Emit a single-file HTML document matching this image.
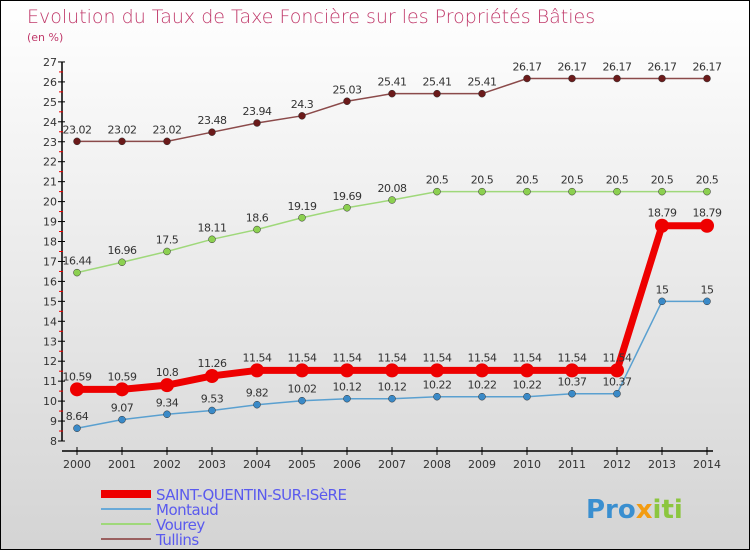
<!DOCTYPE html>
<html><head><meta charset="utf-8"><style>
body{margin:0}
#c{width:748px;height:548px;border:1px solid #000;background:linear-gradient(#fff,#d4d4d4);position:relative;font-family:"DejaVu Sans","Liberation Sans",sans-serif;overflow:hidden}
svg{position:absolute;left:0;top:0}
</style></head><body>
<div id="c">
<svg id="s" width="748" height="548" xmlns="http://www.w3.org/2000/svg">
<text x="26" y="22" font-size="19" fill="#c0396a" font-family="DejaVu Sans,sans-serif" font-weight="200">Evolution du Taux de Taxe Foncière sur les Propriétés Bâties</text>
<text x="26" y="40" font-size="11" fill="#c0396a">(en %)</text>
<g id="axes"></g><g id="series"></g><g id="legend"></g>
<text x="585" y="517" font-size="26" font-weight="bold" fill="#3a8fd0">Pro<tspan fill="#f39c12">x</tspan><tspan fill="#8cc63f">iti</tspan></text>
</svg>
</div>
<script>
const years=[2000,2001,2002,2003,2004,2005,2006,2007,2008,2009,2010,2011,2012,2013,2014];
const yTicks=[8,9,10,11,12,13,14,15,16,17,18,19,20,21,22,23,24,25,26,27];
const saint=[10.59,10.59,10.8,11.26,11.54,11.54,11.54,11.54,11.54,11.54,11.54,11.54,11.54,18.79,18.79];
const montaud=[8.64,9.07,9.34,9.53,9.82,10.02,10.12,10.12,10.22,10.22,10.22,10.37,10.37,15,15];
const vourey=[16.44,16.96,17.5,18.11,18.6,19.19,19.69,20.08,20.5,20.5,20.5,20.5,20.5,20.5,20.5];
const tullins=[23.02,23.02,23.02,23.48,23.94,24.3,25.03,25.41,25.41,25.41,26.17,26.17,26.17,26.17,26.17];
const NS="http://www.w3.org/2000/svg";
const X=i=>76+i*45;
const Y=v=>440-(v-8)*19.95;
function mk(p,t,a){const e=document.createElementNS(NS,t);for(const k in a)e.setAttribute(k,a[k]);p.appendChild(e);return e;}
const ax=document.getElementById('axes');
let l=mk(ax,'line',{x1:61,y1:Y(27),x2:61,y2:Y(8),stroke:'#000','stroke-width':1.5});


l=mk(ax,'line',{x1:61,y1:450,x2:X(14)+6,y2:450,stroke:'#000','stroke-width':1.5});


yTicks.forEach(v=>{mk(ax,'line',{x1:57,y1:Y(v),x2:64,y2:Y(v),stroke:'#000'});
if(v<27)mk(ax,'line',{x1:58,y1:Y(v+0.5),x2:62,y2:Y(v+0.5),stroke:'#e00'});
const t=mk(ax,'text',{x:56,y:Y(v)+4,'text-anchor':'end','font-size':11,fill:'#333'});t.textContent=v;

});
years.forEach((y,i)=>{mk(ax,'line',{x1:X(i),y1:446,x2:X(i),y2:454,stroke:'#000'});
const t=mk(ax,'text',{x:X(i),y:467,'text-anchor':'middle','font-size':11,fill:'#333'});t.textContent=y;

});
const sg=document.getElementById('series');
function draw(d,name,col,w,r,dot){const g=mk(sg,'g',{});


const pl=mk(g,'polyline',{points:d.map((v,i)=>X(i)+','+Y(v)).join(' '),fill:'none',stroke:col,'stroke-width':w});


d.forEach((v,i)=>{const c=mk(g,'circle',{cx:X(i),cy:Y(v),r:r,fill:dot,stroke:w>3?'none':'#333','stroke-width':0.5});


const t=mk(g,'text',{x:X(i),y:Y(v)-(w>3?9:8),'text-anchor':'middle','font-size':11,fill:'#333','letter-spacing':'-0.5'});t.textContent=v;

});}
draw(tullins,'tullins','#8b4a4a',1.5,3.5,'#6b1a1a');
draw(vourey,'vourey','#9fd87a',1.5,3.5,'#8cd050');
draw(montaud,'montaud','#5aa0d0',1.5,3.5,'#3a8ac8');
draw(saint,'saint-quentin','#ee0000',7,7,'#ee0000');
const lg=document.getElementById('legend');
[['SAINT-QUENTIN-SUR-ISèRE','#ee0000',8],['Montaud','#6aaad8',2],['Vourey','#9fd87a',2],['Tullins','#9a6060',2]].forEach((e,i)=>{
const y=493+i*15;
const ln=mk(lg,'line',{x1:100,y1:y,x2:150,y2:y,stroke:e[1],'stroke-width':e[2]});


const t=mk(lg,'text',{x:155,y:y+6,'font-size':15,fill:'#5a5aee','letter-spacing':'-0.5'});t.textContent=e[0];

});
</script>
</body></html>
